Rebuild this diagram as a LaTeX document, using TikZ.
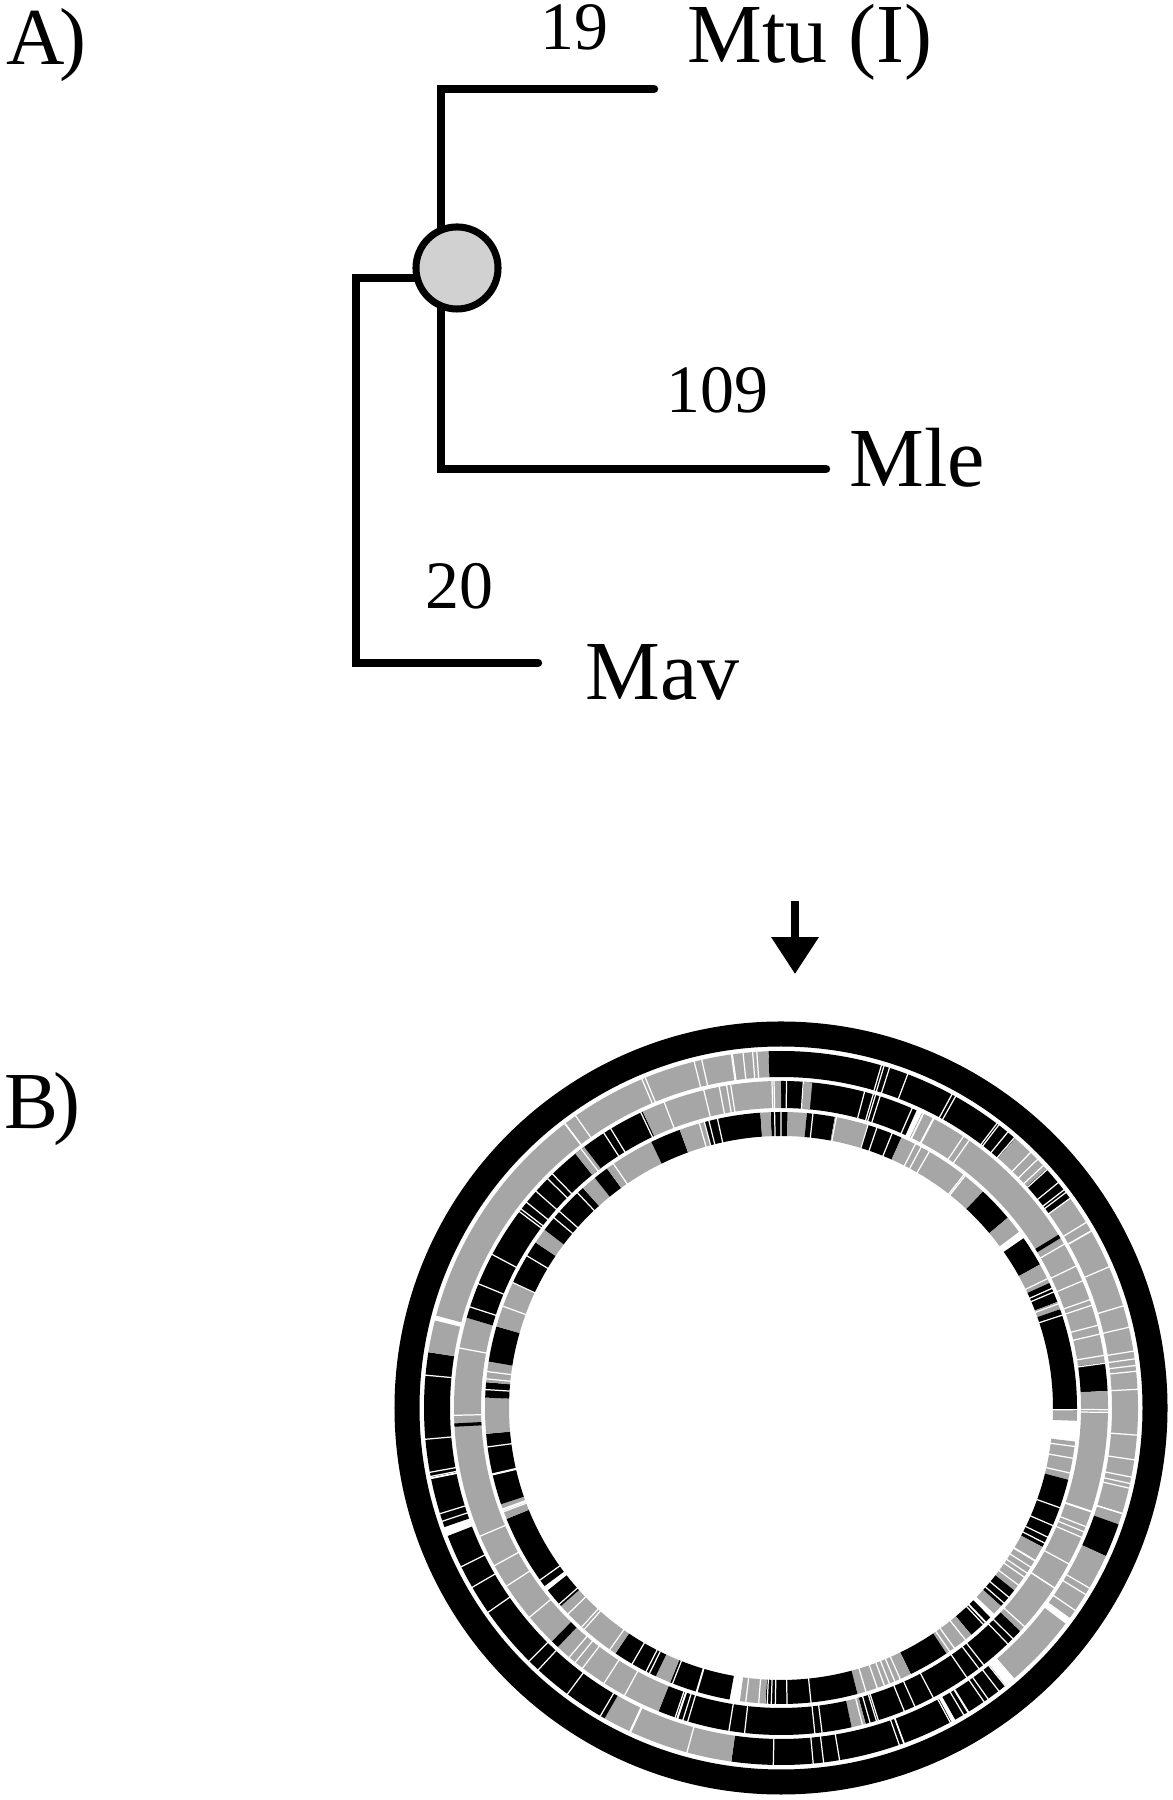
\documentclass[tikz,border=0pt]{standalone}
\usepackage{fontspec}
\setmainfont{Liberation Serif}
\usetikzlibrary{arrows.meta}
\colorlet{ringgray}{black!35}

\begin{document}
\begin{tikzpicture}[x=0.01cm, y=0.01cm,
		branch/.style={line width=2.4pt, line cap=round},
		support/.style={circle, draw, line width=2pt, fill=black!18, minimum size=0.82cm, inner sep=0pt},
		taxon/.style={anchor=base west, inner sep=0pt, font=\fontsize{23.9}{28}\selectfont},
		blen/.style={anchor=base west, inner sep=0pt, font=\fontsize{19.3}{23}\selectfont},
		panel/.style={anchor=base west, inner sep=0pt, font=\fontsize{23}{28}\selectfont},
		ringone/.style={line width=0.26cm},
		ringtwo/.style={line width=0.27cm},
		ringthree/.style={line width=0.24cm}
		]
		\useasboundingbox (0,0) rectangle (1173,1800);

		% A) tree
		\node[panel] (labA) at (6,1735) {A\kern-1.5pt)};
		\coordinate (split) at (441,1532);
		\coordinate (mtuend) at (654,1711);
		\coordinate (mleend) at (826,1331);
		\coordinate (mavjoin) at (441,1522);
		\coordinate (mavbase) at (356,1522);
		\coordinate (mavend) at (538,1137);
		\draw[branch] (mtuend) -| (split) |- (mleend);
		\draw[branch] (mavjoin) -- (mavbase) |- (mavend);
		\node[support] (root) at (457,1532) {};
		\node[blen] (l19) at (540,1750) {19};
		\node[taxon] (mtu) at (687,1737) {Mtu (I)};
		\node[blen] (l109) at (666,1387) {109};
		\node[taxon] (mle) at (849,1313) {Mle};
		\node[blen] (l20) at (425,1191) {20};
		\node[taxon] (mav) at (585,1100) {Mav};

		% B) genome map
		\node[panel] (labB) at (4,671) {B\kern-1.5pt)};
		\coordinate (arrtop) at (795,899);
		\coordinate (arrtip) at (795,826);
		\draw[-{Triangle[width=13pt,length=10.5pt]}, line width=2.2pt] (arrtop) -- (arrtip);

		\begin{scope}[shift={(781,392)}]
			\draw[line width=0.25cm] (0,0) circle[radius=374];
			% outer ring
			\foreach \a/\b/\c in {90.5/49/black, 49/42/ringgray, 42/36/black, 36/-19/ringgray,
				-19/-24.5/black, -24.5/-36/ringgray, -37/-49.2/ringgray, -51/-60.8/black,
				-61.5/-98/black, -98/-119.6/ringgray, -119.6/-159/black, -160.5/-189/black,
				-189/-194.2/ringgray, -195/-268/ringgray, -268/-269.5/black}
			\draw[ringone, \c] (\a:344) arc[start angle=\a, end angle=\b, radius=344];
			% middle ring
			\foreach \a/\b/\c in {90/65.5/black, 64.5/8/ringgray, 8/3/black, 3/-43/ringgray,
				-43/-75/black, -75/-77.5/ringgray, -77.5/-112/black, -112/-133/ringgray,
				-133/-134.5/black, -134.5/-196/ringgray, -196/-245/black, -245/-270/ringgray,
				86/84.5/ringgray, 32/31.3/black, -176.7/-177.3/black, -231/-233/ringgray}
			\draw[ringtwo, \c] (\a:313.5) arc[start angle=\a, end angle=\b, radius=313.5];
			% inner ring
			\foreach \a/\b/\c in {92/88.7/black, 88.7/85/ringgray, 85/79.5/black, 79.5/73/ringgray,
				73/66/black, 66/47/ringgray, 47/40/black, 40/36.5/ringgray, 35/29/black,
				29/25/ringgray, 25/21/black, 21/19.5/ringgray, 19.5/-0.5/black, -0.5/-2.5/ringgray,
				-6.5/-14/ringgray, -14/-28/black, -28/-38/ringgray, -38/-42/black, -42/-44/ringgray,
				-45/-50/black, -50/-56/ringgray, -56/-64/black, -64/-75/ringgray, -75/-93/black,
				-93/-98/ringgray, -100/-112/black, -112/-115/ringgray, -115/-124/black,
				-124/-138/ringgray, -138/-142/black, -143/-158/black, -158/-161/ringgray,
				-161/-175/black, -175/-182/ringgray, -182/-185/black, -185/-189/ringgray,
				-189/-196/black, -196/-205/ringgray, -205/-214/black, -214/-217/ringgray,
				-217/-228/black, -228/-231/ringgray, -231/-234/black, -234/-244/ringgray,
				-244/-250/black, -250/-255/ringgray, -255/-266/black, -266/-268/ringgray}
			\draw[ringthree, \c] (\a:284) arc[start angle=\a, end angle=\b, radius=284];
			% thin white breaks
			\pgfmathsetseed{17}
			\foreach \i in {1,...,85}{
				\pgfmathsetmacro\t{rnd*360}
				\draw[white, line width=0.35pt] (\t:330) -- (\t:358);
			}
			\foreach \i in {1,...,85}{
				\pgfmathsetmacro\t{rnd*360}
				\draw[white, line width=0.35pt] (\t:299) -- (\t:328);
			}
			\foreach \i in {1,...,85}{
				\pgfmathsetmacro\t{rnd*360}
				\draw[white, line width=0.35pt] (\t:271) -- (\t:297);
			}
		\end{scope}
	\end{tikzpicture}
\end{document}
